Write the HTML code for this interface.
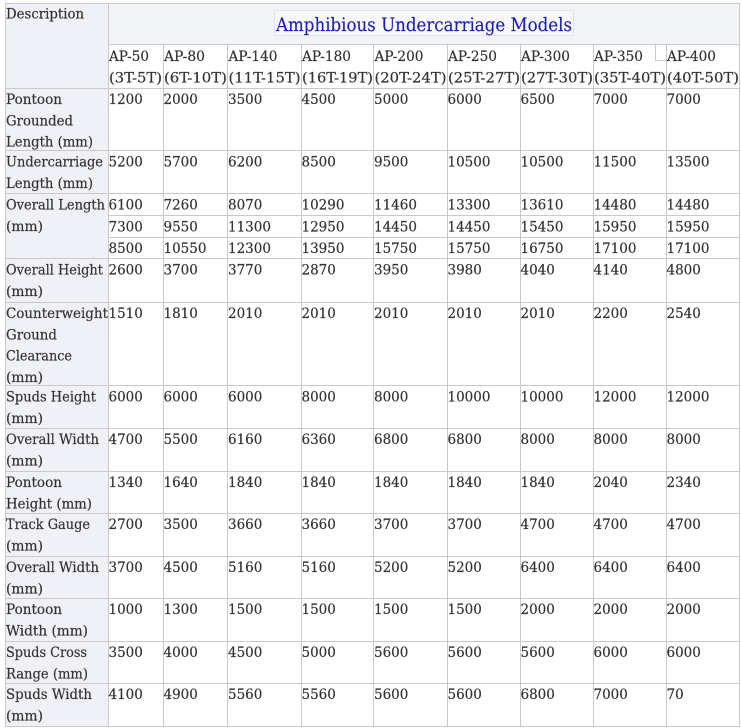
<!DOCTYPE html>
<html>
<head>
<meta charset="utf-8">
<style>
html,body{margin:0;padding:0;background:#fff;}
svg{display:block;}
text{font-family:"DejaVu Serif","Liberation Serif",serif;font-size:13.5px;fill:#333333;stroke:#333333;stroke-width:0.2px;}
</style>
</head>
<body>
<svg width="741" height="728" viewBox="0 0 741 728" xmlns="http://www.w3.org/2000/svg">
<rect x="0" y="0" width="741" height="728" fill="#ffffff"/>
<!-- backgrounds -->
<rect x="5" y="3" width="103" height="723" fill="#eff1f6"/>
<rect x="108" y="3" width="631" height="41" fill="#f2f4f8"/>
<rect x="274.5" y="10.5" width="299" height="25" fill="#f7f8fb" stroke="#dfe2ea" stroke-width="1"/>

<!-- grid lines -->
<g stroke="#c9c9c9" stroke-width="1" shape-rendering="crispEdges">
<line x1="5" y1="3.5" x2="740" y2="3.5"/>
<line x1="108" y1="44.5" x2="740" y2="44.5"/>
<line x1="5" y1="88.5" x2="740" y2="88.5"/>
<line x1="5" y1="150.5" x2="740" y2="150.5"/>
<line x1="5" y1="193.5" x2="740" y2="193.5"/>
<line x1="108" y1="215.5" x2="740" y2="215.5"/>
<line x1="108" y1="237.5" x2="740" y2="237.5"/>
<line x1="5" y1="258.5" x2="740" y2="258.5"/>
<line x1="5" y1="302.5" x2="740" y2="302.5"/>
<line x1="5" y1="385.5" x2="740" y2="385.5"/>
<line x1="5" y1="428.5" x2="740" y2="428.5"/>
<line x1="5" y1="471.5" x2="740" y2="471.5"/>
<line x1="5" y1="513.5" x2="740" y2="513.5"/>
<line x1="5" y1="556.5" x2="740" y2="556.5"/>
<line x1="5" y1="598.5" x2="740" y2="598.5"/>
<line x1="5" y1="641.5" x2="740" y2="641.5"/>
<line x1="5" y1="683.5" x2="740" y2="683.5"/>
<line x1="5" y1="726.5" x2="740" y2="726.5"/>

<line x1="5.5" y1="3" x2="5.5" y2="727"/>
<line x1="739.5" y1="3" x2="739.5" y2="727"/>
<line x1="108.5" y1="3" x2="108.5" y2="727"/>
<line x1="163.5" y1="44" x2="163.5" y2="727"/>
<line x1="227.5" y1="44" x2="227.5" y2="727"/>
<line x1="301.5" y1="44" x2="301.5" y2="727"/>
<line x1="373.5" y1="44" x2="373.5" y2="727"/>
<line x1="447.5" y1="44" x2="447.5" y2="727"/>
<line x1="520.5" y1="44" x2="520.5" y2="727"/>
<line x1="593.5" y1="44" x2="593.5" y2="727"/>
<line x1="666.5" y1="44" x2="666.5" y2="727"/>
<line x1="655.5" y1="44" x2="655.5" y2="61"/>
<line x1="655" y1="60.5" x2="666" y2="60.5"/>
</g>

<!-- title -->
<text x="276" y="31" style="font-size:19px;fill:#1e1eb4;stroke:#1e1eb4;stroke-width:0.15px" textLength="296" lengthAdjust="spacingAndGlyphs">Amphibious Undercarriage Models</text>
<text x="6" y="18.5" textLength="78" lengthAdjust="spacingAndGlyphs">Description</text>

<!-- headers -->
<g>
<text x="109" y="61" textLength="40" lengthAdjust="spacingAndGlyphs">AP-50</text>
<text x="109" y="82.5" textLength="53" lengthAdjust="spacingAndGlyphs">(3T-5T)</text>
<text x="164" y="61" textLength="41" lengthAdjust="spacingAndGlyphs">AP-80</text>
<text x="164" y="82.5" textLength="63" lengthAdjust="spacingAndGlyphs">(6T-10T)</text>
<text x="228.5" y="61" textLength="49" lengthAdjust="spacingAndGlyphs">AP-140</text>
<text x="228.5" y="82.5" textLength="72" lengthAdjust="spacingAndGlyphs">(11T-15T)</text>
<text x="302" y="61" textLength="49" lengthAdjust="spacingAndGlyphs">AP-180</text>
<text x="302" y="82.5" textLength="71" lengthAdjust="spacingAndGlyphs">(16T-19T)</text>
<text x="374.5" y="61" textLength="49" lengthAdjust="spacingAndGlyphs">AP-200</text>
<text x="374.5" y="82.5" textLength="72" lengthAdjust="spacingAndGlyphs">(20T-24T)</text>
<text x="448" y="61" textLength="49" lengthAdjust="spacingAndGlyphs">AP-250</text>
<text x="448" y="82.5" textLength="72" lengthAdjust="spacingAndGlyphs">(25T-27T)</text>
<text x="521" y="61" textLength="49" lengthAdjust="spacingAndGlyphs">AP-300</text>
<text x="521" y="82.5" textLength="72" lengthAdjust="spacingAndGlyphs">(27T-30T)</text>
<text x="594" y="61" textLength="49" lengthAdjust="spacingAndGlyphs">AP-350</text>
<text x="594" y="82.5" textLength="72" lengthAdjust="spacingAndGlyphs">(35T-40T)</text>
<text x="667" y="61" textLength="49" lengthAdjust="spacingAndGlyphs">AP-400</text>
<text x="667" y="82.5" textLength="72" lengthAdjust="spacingAndGlyphs">(40T-50T)</text>
</g>

<!-- row labels -->
<g>
<text x="6" y="104" textLength="56" lengthAdjust="spacingAndGlyphs">Pontoon</text>
<text x="6" y="125.3" textLength="67" lengthAdjust="spacingAndGlyphs">Grounded</text>
<text x="6" y="146.6" textLength="87" lengthAdjust="spacingAndGlyphs">Length (mm)</text>

<text x="6" y="166.5" textLength="97" lengthAdjust="spacingAndGlyphs">Undercarriage</text>
<text x="6" y="187.8" textLength="87" lengthAdjust="spacingAndGlyphs">Length (mm)</text>

<text x="6" y="209.5" textLength="99" lengthAdjust="spacingAndGlyphs">Overall Length</text>
<text x="6" y="230.8" textLength="37" lengthAdjust="spacingAndGlyphs">(mm)</text>

<text x="6" y="274.5" textLength="97" lengthAdjust="spacingAndGlyphs">Overall Height</text>
<text x="6" y="295.8" textLength="37" lengthAdjust="spacingAndGlyphs">(mm)</text>

<text x="6" y="318" textLength="102" lengthAdjust="spacingAndGlyphs">Counterweight</text>
<text x="6" y="339.3" textLength="51" lengthAdjust="spacingAndGlyphs">Ground</text>
<text x="6" y="360.6" textLength="66" lengthAdjust="spacingAndGlyphs">Clearance</text>
<text x="6" y="381.9" textLength="37" lengthAdjust="spacingAndGlyphs">(mm)</text>

<text x="6" y="401.5" textLength="90" lengthAdjust="spacingAndGlyphs">Spuds Height</text>
<text x="6" y="422.8" textLength="37" lengthAdjust="spacingAndGlyphs">(mm)</text>

<text x="6" y="444" textLength="93" lengthAdjust="spacingAndGlyphs">Overall Width</text>
<text x="6" y="465.3" textLength="37" lengthAdjust="spacingAndGlyphs">(mm)</text>

<text x="6" y="487" textLength="56" lengthAdjust="spacingAndGlyphs">Pontoon</text>
<text x="6" y="508.3" textLength="86" lengthAdjust="spacingAndGlyphs">Height (mm)</text>

<text x="6" y="529" textLength="84" lengthAdjust="spacingAndGlyphs">Track Gauge</text>
<text x="6" y="550.3" textLength="37" lengthAdjust="spacingAndGlyphs">(mm)</text>

<text x="6" y="572" textLength="93" lengthAdjust="spacingAndGlyphs">Overall Width</text>
<text x="6" y="593.3" textLength="37" lengthAdjust="spacingAndGlyphs">(mm)</text>

<text x="6" y="614" textLength="56" lengthAdjust="spacingAndGlyphs">Pontoon</text>
<text x="6" y="635.3" textLength="82" lengthAdjust="spacingAndGlyphs">Width (mm)</text>

<text x="6" y="657" textLength="81" lengthAdjust="spacingAndGlyphs">Spuds Cross</text>
<text x="6" y="678.3" textLength="82" lengthAdjust="spacingAndGlyphs">Range (mm)</text>

<text x="6" y="699" textLength="86" lengthAdjust="spacingAndGlyphs">Spuds Width</text>
<text x="6" y="720.3" textLength="37" lengthAdjust="spacingAndGlyphs">(mm)</text>
</g>

<!-- data -->
<g>
<text x="108.5" y="104">1200</text><text x="163.5" y="104">2000</text><text x="228" y="104">3500</text><text x="301.5" y="104">4500</text><text x="374" y="104">5000</text><text x="447.5" y="104">6000</text><text x="520.5" y="104">6500</text><text x="593.5" y="104">7000</text><text x="666.5" y="104">7000</text>
<text x="108.5" y="166.5">5200</text><text x="163.5" y="166.5">5700</text><text x="228" y="166.5">6200</text><text x="301.5" y="166.5">8500</text><text x="374" y="166.5">9500</text><text x="447.5" y="166.5">10500</text><text x="520.5" y="166.5">10500</text><text x="593.5" y="166.5">11500</text><text x="666.5" y="166.5">13500</text>
<text x="108.5" y="209.5">6100</text><text x="163.5" y="209.5">7260</text><text x="228" y="209.5">8070</text><text x="301.5" y="209.5">10290</text><text x="374" y="209.5">11460</text><text x="447.5" y="209.5">13300</text><text x="520.5" y="209.5">13610</text><text x="593.5" y="209.5">14480</text><text x="666.5" y="209.5">14480</text>
<text x="108.5" y="231.3">7300</text><text x="163.5" y="231.3">9550</text><text x="228" y="231.3">11300</text><text x="301.5" y="231.3">12950</text><text x="374" y="231.3">14450</text><text x="447.5" y="231.3">14450</text><text x="520.5" y="231.3">15450</text><text x="593.5" y="231.3">15950</text><text x="666.5" y="231.3">15950</text>
<text x="108.5" y="253">8500</text><text x="163.5" y="253">10550</text><text x="228" y="253">12300</text><text x="301.5" y="253">13950</text><text x="374" y="253">15750</text><text x="447.5" y="253">15750</text><text x="520.5" y="253">16750</text><text x="593.5" y="253">17100</text><text x="666.5" y="253">17100</text>
<text x="108.5" y="274.5">2600</text><text x="163.5" y="274.5">3700</text><text x="228" y="274.5">3770</text><text x="301.5" y="274.5">2870</text><text x="374" y="274.5">3950</text><text x="447.5" y="274.5">3980</text><text x="520.5" y="274.5">4040</text><text x="593.5" y="274.5">4140</text><text x="666.5" y="274.5">4800</text>
<text x="108.5" y="318">1510</text><text x="163.5" y="318">1810</text><text x="228" y="318">2010</text><text x="301.5" y="318">2010</text><text x="374" y="318">2010</text><text x="447.5" y="318">2010</text><text x="520.5" y="318">2010</text><text x="593.5" y="318">2200</text><text x="666.5" y="318">2540</text>
<text x="108.5" y="401.5">6000</text><text x="163.5" y="401.5">6000</text><text x="228" y="401.5">6000</text><text x="301.5" y="401.5">8000</text><text x="374" y="401.5">8000</text><text x="447.5" y="401.5">10000</text><text x="520.5" y="401.5">10000</text><text x="593.5" y="401.5">12000</text><text x="666.5" y="401.5">12000</text>
<text x="108.5" y="444">4700</text><text x="163.5" y="444">5500</text><text x="228" y="444">6160</text><text x="301.5" y="444">6360</text><text x="374" y="444">6800</text><text x="447.5" y="444">6800</text><text x="520.5" y="444">8000</text><text x="593.5" y="444">8000</text><text x="666.5" y="444">8000</text>
<text x="108.5" y="487">1340</text><text x="163.5" y="487">1640</text><text x="228" y="487">1840</text><text x="301.5" y="487">1840</text><text x="374" y="487">1840</text><text x="447.5" y="487">1840</text><text x="520.5" y="487">1840</text><text x="593.5" y="487">2040</text><text x="666.5" y="487">2340</text>
<text x="108.5" y="529">2700</text><text x="163.5" y="529">3500</text><text x="228" y="529">3660</text><text x="301.5" y="529">3660</text><text x="374" y="529">3700</text><text x="447.5" y="529">3700</text><text x="520.5" y="529">4700</text><text x="593.5" y="529">4700</text><text x="666.5" y="529">4700</text>
<text x="108.5" y="572">3700</text><text x="163.5" y="572">4500</text><text x="228" y="572">5160</text><text x="301.5" y="572">5160</text><text x="374" y="572">5200</text><text x="447.5" y="572">5200</text><text x="520.5" y="572">6400</text><text x="593.5" y="572">6400</text><text x="666.5" y="572">6400</text>
<text x="108.5" y="614">1000</text><text x="163.5" y="614">1300</text><text x="228" y="614">1500</text><text x="301.5" y="614">1500</text><text x="374" y="614">1500</text><text x="447.5" y="614">1500</text><text x="520.5" y="614">2000</text><text x="593.5" y="614">2000</text><text x="666.5" y="614">2000</text>
<text x="108.5" y="657">3500</text><text x="163.5" y="657">4000</text><text x="228" y="657">4500</text><text x="301.5" y="657">5000</text><text x="374" y="657">5600</text><text x="447.5" y="657">5600</text><text x="520.5" y="657">5600</text><text x="593.5" y="657">6000</text><text x="666.5" y="657">6000</text>
<text x="108.5" y="699">4100</text><text x="163.5" y="699">4900</text><text x="228" y="699">5560</text><text x="301.5" y="699">5560</text><text x="374" y="699">5600</text><text x="447.5" y="699">5600</text><text x="520.5" y="699">6800</text><text x="593.5" y="699">7000</text><text x="666.5" y="699">70</text>
</g>
</svg>
</body>
</html>
